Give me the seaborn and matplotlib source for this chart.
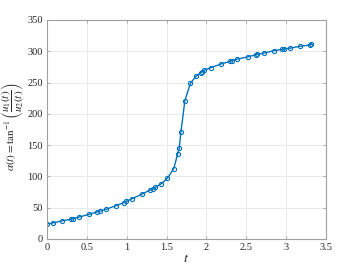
import matplotlib
matplotlib.use("Agg")
import matplotlib.pyplot as plt
import seaborn as sns
import pandas as pd

t_vals = [0, 0.07, 0.19, 0.30, 0.33, 0.40, 0.53, 0.62, 0.66, 0.74, 0.86, 0.96, 0.99,
          1.06, 1.19, 1.29, 1.33, 1.36, 1.43, 1.51, 1.59, 1.64, 1.66, 1.68, 1.73,
          1.80, 1.87, 1.93, 1.95, 1.97, 2.06, 2.18, 2.30, 2.32, 2.39, 2.52, 2.62,
          2.64, 2.72, 2.85, 2.95, 2.98, 3.05, 3.18, 3.30, 3.32]
alpha_vals = [24, 25.5, 29, 31.5, 32.5, 35, 39.5, 43, 44.5, 47.5, 53, 58, 60,
              64, 71.5, 78, 80, 82.5, 88, 97, 112.5, 136, 146, 171, 221,
              249, 260, 266, 267.5, 269.5, 274, 279.5, 284, 285, 287.5, 291, 294.5,
              295, 297, 301, 303, 303.5, 305, 308, 310, 311]
x_ticks = [0, 0.5, 1, 1.5, 2, 2.5, 3, 3.5]
x_tick_labels = ["0", "0.5", "1", "1.5", "2", "2.5", "3", "3.5"]
y_ticks = [0, 50, 100, 150, 200, 250, 300, 350]

sns.set_theme(style="whitegrid")
plt.rcParams['font.family'] = ['Liberation Serif', 'DejaVu Serif']
plt.rcParams['mathtext.fontset'] = 'stix'

df = pd.DataFrame({"t": t_vals, "alpha": alpha_vals})

fig = plt.figure(figsize=(3.6, 2.7), dpi=100)
ax = fig.add_axes([0.131, 0.115, 0.774, 0.811])
ax.set_facecolor("white")

sns.lineplot(data=df, x="t", y="alpha", ax=ax, color="#0072BD", linewidth=1.0,
             marker="o", markersize=3.0, markerfacecolor="none",
             markeredgecolor="#0072BD", markeredgewidth=0.8, sort=False)

ax.set_xlim(0, 3.5)
ax.set_ylim(0, 350)
ax.set_xticks(x_ticks)
ax.set_xticklabels(x_tick_labels)
ax.set_yticks(y_ticks)
ax.grid(True, color="#e6e6e6", linewidth=0.6)
for s in ax.spines.values():
    s.set_visible(True)
    s.set_color("#a0a0a0")
    s.set_linewidth(0.8)
ax.tick_params(direction="in", length=2.5, width=0.6, color="#a0a0a0",
               labelsize=7.5, labelcolor="#262626", top=True, right=True,
               bottom=True, left=True, pad=3)
ax.set_xlabel(r"$t$", fontsize=10, labelpad=0)
ax.set_ylabel(r"$\alpha(t) = \tan^{-1}\left(\dfrac{u_1(t)}{u_2(t)}\right)$",
              fontsize=8)
ax.yaxis.set_label_coords(-0.072, 0.51)

fig.savefig("out.png", dpi=100, facecolor="white")
